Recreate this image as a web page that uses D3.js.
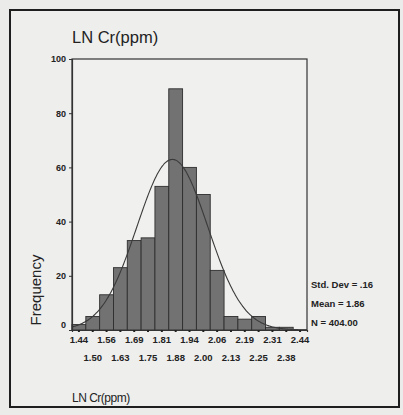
<!DOCTYPE html>
<html>
<head>
<meta charset="utf-8">
<script src="https://cdn.jsdelivr.net/npm/d3@7"></script>
<style>
  html, body { margin: 0; padding: 0; background: #ebebea; }
  svg { display: block; }
  text { font-family: "Liberation Sans", Arial, sans-serif; fill: #222; }
</style>
</head>
<body>
<svg id="chart" width="403" height="415"></svg>
<script>
// ---- data ----
const binLabels = ["1.44","1.50","1.56","1.63","1.69","1.75","1.81","1.88","1.94","2.00","2.06","2.13","2.19","2.25","2.31","2.38","2.44"];
const frequencies = [2, 5, 13, 23, 33, 34, 53, 89, 60, 50, 22, 5, 4, 5, 1, 1, 0];
const yTicks = [0, 20, 40, 60, 80, 100];
const binStart = 1.40625;
const binWidth = 0.0625;
const statMean = 1.86;
const statSd = 0.16;
const statN = 404;
const statLines = ["Std. Dev = .16", "Mean = 1.86", "N = 404.00"];

// ---- layout ----
const svg = d3.select("#chart");
const L = 72, R = 307, T = 59, B = 330;

svg.append("rect").attr("x", 0).attr("y", 0).attr("width", 403).attr("height", 415).attr("fill", "#ebebea");
svg.append("rect").attr("x", 10).attr("y", 10).attr("width", 389).attr("height", 397)
  .attr("fill", "#eeeeed").attr("stroke", "#1e1e1e").attr("stroke-width", 2);

const x = d3.scaleBand().domain(binLabels).range([L, R]).padding(0);
const xv = d3.scaleLinear().domain([binStart, binStart + binWidth * binLabels.length]).range([L, R]);
const y = d3.scaleLinear().domain([0, 100]).range([B, T]);

// plot frame
svg.append("rect").attr("x", L).attr("y", T).attr("width", R - L).attr("height", B - T)
  .attr("fill", "#f0f0ef").attr("stroke", "#333").attr("stroke-width", 1.2);

// bars
svg.append("g").selectAll("rect").data(frequencies).join("rect")
  .attr("x", (d, i) => x(binLabels[i]))
  .attr("y", d => y(d))
  .attr("width", x.bandwidth())
  .attr("height", d => y(0) - y(d))
  .attr("fill", "#727272")
  .attr("stroke", "#2e2e2e")
  .attr("stroke-width", 0.9);

// normal curve (from the displayed Mean / Std. Dev / N)
const curvePts = d3.range(0, 201).map(k => {
  const v = binStart + (binWidth * binLabels.length) * k / 200;
  const z = (v - statMean) / statSd;
  const f = statN * binWidth / (statSd * Math.sqrt(2 * Math.PI)) * Math.exp(-0.5 * z * z);
  return [v, f];
});
svg.append("path").datum(curvePts)
  .attr("d", d3.line().x(d => xv(d[0])).y(d => y(d[1])).curve(d3.curveBasis))
  .attr("fill", "none").attr("stroke", "#3a3a3a").attr("stroke-width", 1.1);

// y axis
const yAxis = d3.axisLeft(y).tickValues(yTicks).tickSize(3).tickPadding(3);
const gy = svg.append("g").attr("transform", `translate(${L},0)`).call(yAxis);
gy.select(".domain").attr("stroke", "#333").attr("stroke-width", 1.2);
gy.selectAll(".tick line").attr("stroke", "#333");
gy.selectAll(".tick text").attr("font-size", 9).attr("font-weight", "bold")
  .attr("font-family", "'Liberation Sans', Arial, sans-serif").attr("fill", "#333")
  .attr("dy", (d) => d === 0 ? "-0.3em" : "0.32em");

// x axis
const xAxis = d3.axisBottom(x).tickSize(2).tickPadding(3);
const gx = svg.append("g").attr("transform", `translate(0,${B})`).call(xAxis);
gx.select(".domain").attr("stroke", "#333").attr("stroke-width", 1.2);
gx.selectAll(".tick line").attr("stroke", "#222").attr("stroke-width", 2);
gx.selectAll(".tick text").attr("font-size", 9.5).attr("font-weight", "bold")
  .attr("font-family", "'Liberation Sans', Arial, sans-serif").attr("fill", "#333")
  .attr("y", (d, i) => i % 2 === 0 ? 6 : 24);

// title
svg.append("text").attr("x", 72).attr("y", 43).attr("font-size", 16.5).attr("fill", "#222").text("LN Cr(ppm)");

// y label
svg.append("text").attr("transform", "translate(41,290) rotate(-90)")
  .attr("text-anchor", "middle").attr("font-size", 15).attr("fill", "#333").text("Frequency");

// x label
svg.append("text").attr("x", 72).attr("y", 402).attr("font-size", 12)
  .attr("letter-spacing", -0.5).attr("fill", "#333").text("LN Cr(ppm)");

// stats
svg.append("g").selectAll("text").data(statLines).join("text")
  .attr("x", 311).attr("y", (d, i) => 288 + i * 19)
  .attr("font-size", 9.5).attr("font-weight", "bold").attr("fill", "#333")
  .text(d => d);
</script>
</body>
</html>
